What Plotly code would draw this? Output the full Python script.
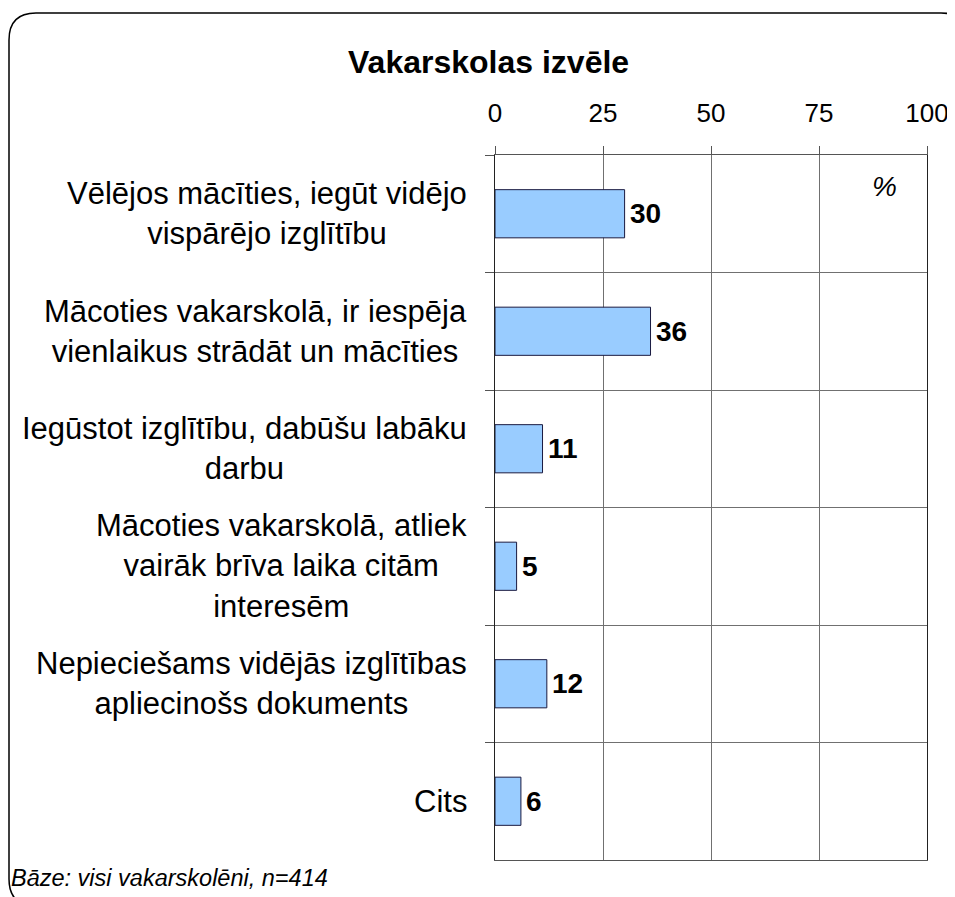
import plotly.graph_objects as go

categories = [
    "Vēlējos mācīties, iegūt vidējo<br>vispārējo izglītību",
    "Mācoties vakarskolā, ir iespēja<br>vienlaikus strādāt un mācīties",
    "Iegūstot izglītību, dabūšu labāku<br>darbu",
    "Mācoties vakarskolā, atliek<br>vairāk brīva laika citām<br>interesēm",
    "Nepieciešams vidējās izglītības<br>apliecinošs dokuments",
    "Cits",
]
values = [30, 36, 11, 5, 12, 6]
x_ticks = [0, 25, 50, 75, 100]
title_text = "Vakarskolas izvēle"
unit_text = "%"
base_text = "Bāze: visi vakarskolēni, n=414"

# page places the figure 8px from the top-left corner
OFF = 8
SW, SH = 955, 897
W, H = SW, SH - OFF
# plot area in screen pixels
PL, PR, PT, PB = 495, 927, 155, 860
PW, PH = PR - PL, PB - PT
L, T, B = PL - OFF, PT - OFF, SH - PB
R = W - L - PW


def px(x):
    return (x - PL) / PW


def py(y):
    return (PB - y) / PH


FONT = "Liberation Sans, Arial, sans-serif"

fig = go.Figure()
fig.add_trace(go.Bar(
    x=values, y=categories, orientation="h", width=0.41,
    marker=dict(color="#99ccff", line=dict(color="#1a1a40", width=1)),
    hoverinfo="skip",
))

ann = []
for c, v in zip(categories, values):
    ann.append(dict(x=0, xref="paper", y=c, yref="y", text=c, showarrow=False,
                    xanchor="right", align="center", xshift=-26,
                    font=dict(family=FONT, size=31, color="black")))
    ann.append(dict(x=v, xref="x", y=c, yref="y", text="<b>%d</b>" % v, showarrow=False,
                    xanchor="left", xshift=3,
                    font=dict(family=FONT, size=28, color="black")))

ann.append(dict(x=px(488), y=py(62), xref="paper", yref="paper", text="<b>%s</b>" % title_text,
                showarrow=False, xanchor="center", yanchor="middle",
                font=dict(family=FONT, size=32, color="black")))
ann.append(dict(x=px(884), y=py(187), xref="paper", yref="paper", text="<i>%s</i>" % unit_text,
                showarrow=False, xanchor="center", yanchor="middle",
                font=dict(family=FONT, size=28, color="black")))
ann.append(dict(x=px(9), y=py(878), xref="paper", yref="paper", text="<i>%s</i>" % base_text,
                showarrow=False, xanchor="left", yanchor="middle",
                font=dict(family=FONT, size=23.5, color="black")))

# rounded border (screen pixels)
bl, bt, br, bb, rad = 9, 13, 968, 906, 27
path = (f"M {px(bl)} {py(bt+rad)} Q {px(bl)} {py(bt)} {px(bl+rad)} {py(bt)} "
        f"L {px(br-rad)} {py(bt)} Q {px(br)} {py(bt)} {px(br)} {py(bt+rad)} "
        f"L {px(br)} {py(bb-rad)} Q {px(br)} {py(bb)} {px(br-rad)} {py(bb)} "
        f"L {px(bl+rad)} {py(bb)} Q {px(bl)} {py(bb)} {px(bl)} {py(bb-rad)} Z")
shapes = [dict(type="path", xref="paper", yref="paper", path=path,
               line=dict(color="black", width=1.5), layer="above")]

fig.update_layout(
    width=W, height=H,
    margin=dict(l=L, r=R, t=T, b=B),
    paper_bgcolor="white", plot_bgcolor="white",
    showlegend=False,
    annotations=ann, shapes=shapes,
    font=dict(family=FONT, color="black"),
    xaxis=dict(side="top", range=[0, 100], tickvals=x_ticks, ticks="outside", ticklen=8,
               tickcolor="#555555", showgrid=True, gridcolor="#707070", gridwidth=1,
               showline=True, linecolor="#555555", mirror=True, zeroline=False,
               tickfont=dict(family=FONT, size=26, color="black"), ticklabelstandoff=14,
               fixedrange=True),
    yaxis=dict(type="category", categoryorder="array", categoryarray=categories,
               autorange="reversed", showticklabels=False, tickson="boundaries",
               ticks="outside", ticklen=9, tickcolor="#555555", showgrid=True,
               gridcolor="#707070", gridwidth=1, showline=True, linecolor="#222222",
               mirror=True, zeroline=False, fixedrange=True),
)

fig.write_html("out.html")
